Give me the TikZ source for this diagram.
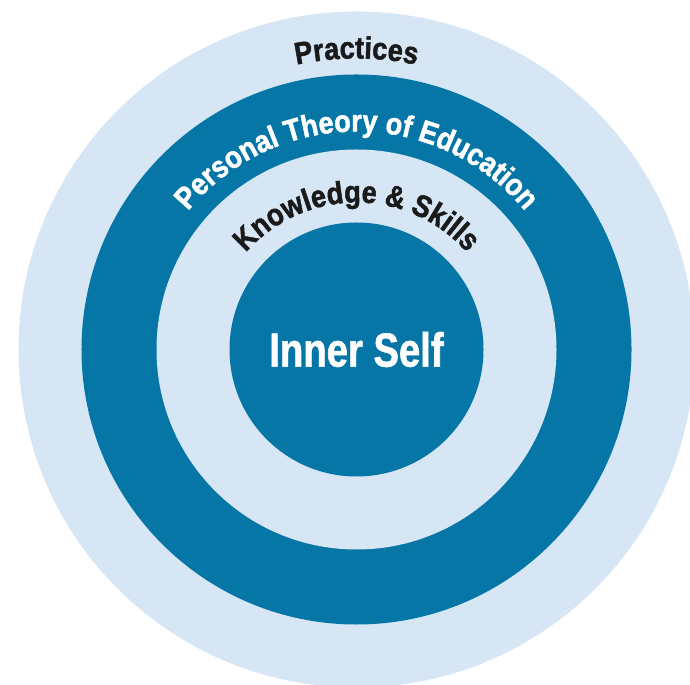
\documentclass[tikz,border=0pt]{standalone}
\usepackage{fontspec}
\setmainfont{Liberation Sans}
\newfontfamily\condfont[FakeStretch=0.8,FakeBold=1.2]{Liberation Sans}
\newfontfamily\heavyfont[FakeStretch=0.88,FakeBold=1.6]{Liberation Sans}
\usetikzlibrary{decorations.text}
\definecolor{paleblue}{RGB}{214,230,245}
\definecolor{deepblue}{RGB}{6,118,167}
\definecolor{inkblack}{RGB}{26,26,26}
\begin{document}
\begin{tikzpicture}[x=1bp,y=1bp,
	disc/.style={circle,inner sep=0pt,minimum size=#1},
	arclabel/.style={decoration={text along path,text align=center,text={#1}},decorate}]
	\useasboundingbox (0,0) rectangle (690,685);
	\clip (0,0) rectangle (690,685);
	\coordinate (c) at (356.5,335.5);
	\node[disc=676bp,fill=paleblue] (practices) at (c) {};
	\node[disc=550bp,fill=deepblue] (theory) at (c) {};
	\node[disc=400bp,fill=paleblue] (knowledge) at (c) {};
	\node[disc=254bp,fill=deepblue,text=white,font=\condfont\bfseries\fontsize{48}{50}\selectfont] (self) at (c) {Inner Self};

	\path[arclabel={|\heavyfont\bfseries\fontsize{31}{33}\selectfont\color{inkblack}|Practices}]
		(c) ++(180:291) arc[start angle=180,end angle=0,radius=291];
	\path[arclabel={|\heavyfont\bfseries\fontsize{31}{33}\selectfont\color{white}|Personal Theory of Education}]
		(c) ++(180:218) arc[start angle=180,end angle=0,radius=218];
	\path[arclabel={|\heavyfont\bfseries\fontsize{31}{33}\selectfont\color{inkblack}|Knowledge {\&} Skills}]
		(c) ++(180:147) arc[start angle=180,end angle=0,radius=147];
\end{tikzpicture}
\end{document}
